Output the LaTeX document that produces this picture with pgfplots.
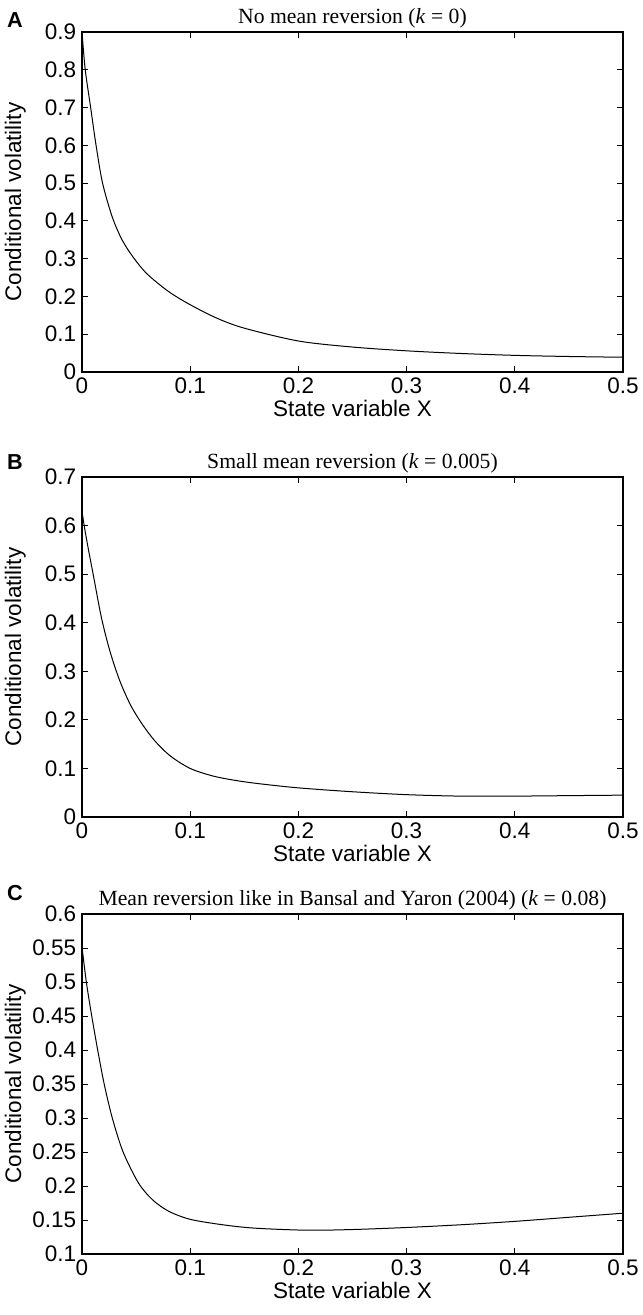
\documentclass[border=0pt]{standalone}
\usepackage{fontspec}
\setmainfont{Liberation Sans}
\newfontfamily\tnr{Liberation Serif}
\usepackage{pgfplots}
\pgfplotsset{compat=1.18}

% common look of the three panels
\pgfplotsset{panel/.style={
    scale only axis,
    width=324.6pt, height=204pt,
    xmin=0, xmax=0.5,
    xtick={0,0.1,0.2,0.3,0.4,0.5},
    tick align=inside,
    major tick length=3.6pt,
    axis line style={line width=0.9pt},
    every tick/.style={black, line width=0.6pt},
    font=\fontsize{13.5}{16}\selectfont,
    /pgf/number format/assume math mode=true,
    /pgf/number format/fixed,
    xlabel={State variable X},
    ylabel={Conditional volatility},
    every axis x label/.style={at={(rel axis cs:0.5,0)}, yshift=-21.6pt, anchor=center},
    every axis y label/.style={at={(rel axis cs:0,0.5)}, xshift=-40pt, rotate=90, anchor=center},
    every axis title/.style={font=\tnr\fontsize{13}{15}\selectfont, at={(0.5,1)}, anchor=south, yshift=-1pt},
    anchor=north west,
}}

\begin{document}
\begin{tikzpicture}

% A
\begin{axis}[panel, at={(0,0)},
    ymin=0, ymax=0.9, ytick={0,0.1,...,0.9},
    title={No mean reversion (\textit{k} = 0)}]
\addplot[black, line width=0.6pt, smooth] coordinates {
(0,0.9)(0.003,0.8)(0.008,0.7)(0.013,0.6)(0.019,0.5)(0.028,0.41)(0.037,0.35)
(0.047,0.305)(0.06,0.26)(0.08,0.213)(0.1,0.178)(0.125,0.142)(0.15,0.116)(0.2,0.082)
(0.25,0.066)(0.3,0.056)(0.35,0.049)(0.4,0.044)(0.45,0.041)(0.5,0.039)};
\end{axis}

% B
\begin{axis}[panel, at={(0,-267pt)},
    ymin=0, ymax=0.7, ytick={0,0.1,...,0.7},
    title={Small mean reversion (\textit{k} = 0.005)}]
\addplot[black, line width=0.6pt, smooth] coordinates {
(0,0.63)(0.002,0.6)(0.006,0.55)(0.0103,0.5)(0.018,0.41)(0.026,0.34)(0.035,0.28)
(0.045,0.23)(0.056,0.19)(0.068,0.155)(0.082,0.125)(0.1,0.1)(0.12,0.085)(0.14,0.076)
(0.162,0.069)(0.2,0.06)(0.25,0.052)(0.3,0.046)(0.35,0.043)(0.4,0.043)(0.45,0.044)(0.5,0.045)};
\end{axis}

% C
\begin{axis}[panel, at={(0,-529.2pt)},
    ymin=0.1, ymax=0.6, ytick={0.1,0.15,...,0.6},
    yticklabels={0.1,0.15,0.2,0.25,0.3,0.35,0.4,0.45,0.5,0.55,0.6},
    title={Mean reversion like in Bansal and Yaron (2004) (\textit{k} = 0.08)}]
\addplot[black, line width=0.6pt, smooth] coordinates {
(0,0.552)(0.004,0.5)(0.009,0.45)(0.0145,0.4)(0.0205,0.35)(0.028,0.3)(0.038,0.25)
(0.052,0.205)(0.065,0.18)(0.08,0.163)(0.1,0.151)(0.13,0.143)(0.16,0.138)
(0.208,0.135)(0.25,0.136)(0.3,0.139)(0.35,0.143)(0.4,0.148)(0.45,0.154)(0.5,0.16)};
\end{axis}

\node[font=\bfseries\fontsize{13}{15}\selectfont] at (-40.2pt,7.2pt) {A};
\node[font=\bfseries\fontsize{13}{15}\selectfont] at (-40.2pt,-258pt) {B};
\node[font=\bfseries\fontsize{13}{15}\selectfont] at (-40.2pt,-516.6pt) {C};

\pgfresetboundingbox
\path (-49.2pt,19.2pt) rectangle (336pt,-769.8pt);
\end{tikzpicture}
\end{document}
